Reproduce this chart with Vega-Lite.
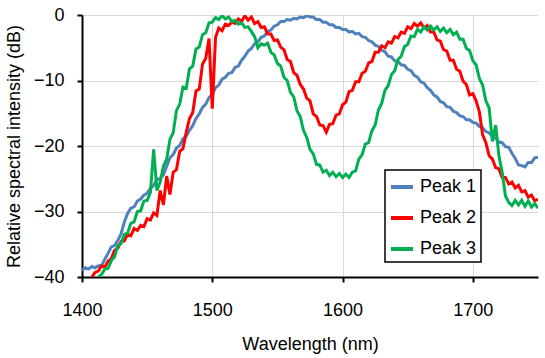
{
 "$schema": "https://vega.github.io/schema/vega-lite/v6.json",
 "width": 456,
 "height": 262,
 "autosize": {"type": "none"},
 "padding": {"left": 82, "top": 15, "right": 7, "bottom": 81},
 "background": "white",
 "config": {"view": {"stroke": null}, "font": "Liberation Sans"},
 "data": {"values": [
  {"w":1400,"Peak 1":-39.0},
  {"w":1402.5,"Peak 1":-38.6},
  {"w":1405,"Peak 1":-38.8},
  {"w":1407.5,"Peak 1":-38.4,"Peak 2":-40.0},
  {"w":1410,"Peak 1":-38.6,"Peak 2":-39.3},
  {"w":1412.5,"Peak 1":-38.3,"Peak 2":-39.1,"Peak 3":-40.0},
  {"w":1415,"Peak 1":-38.3,"Peak 2":-38.3,"Peak 3":-39.6},
  {"w":1417.5,"Peak 1":-37.3,"Peak 2":-38.5,"Peak 3":-38.8},
  {"w":1420,"Peak 1":-36.4,"Peak 2":-37.6,"Peak 3":-38.7},
  {"w":1422.5,"Peak 1":-35.4,"Peak 2":-37.2,"Peak 3":-37.5},
  {"w":1425,"Peak 1":-35.2,"Peak 2":-35.9,"Peak 3":-36.9},
  {"w":1427.5,"Peak 1":-34.4,"Peak 2":-35.6,"Peak 3":-35.2},
  {"w":1430,"Peak 1":-33.4,"Peak 2":-34.6,"Peak 3":-34.9},
  {"w":1432.5,"Peak 1":-31.6,"Peak 2":-34.5,"Peak 3":-33.5},
  {"w":1435,"Peak 1":-30.3,"Peak 2":-33.5,"Peak 3":-33.3},
  {"w":1437.5,"Peak 1":-29.5,"Peak 2":-33.7,"Peak 3":-31.8},
  {"w":1440,"Peak 1":-29.3,"Peak 2":-32.6,"Peak 3":-31.6},
  {"w":1442.5,"Peak 1":-28.4,"Peak 2":-32.9,"Peak 3":-30.0},
  {"w":1445,"Peak 1":-28.1,"Peak 2":-32.1,"Peak 3":-29.9},
  {"w":1447.5,"Peak 1":-27.5,"Peak 2":-32.3,"Peak 3":-28.4},
  {"w":1450,"Peak 1":-27.2,"Peak 2":-31.1,"Peak 3":-28.3},
  {"w":1452.5,"Peak 1":-26.5,"Peak 2":-31.3,"Peak 3":-27.1},
  {"w":1455,"Peak 1":-26.0,"Peak 2":-30.2,"Peak 3":-20.5},
  {"w":1457.5,"Peak 1":-25.1,"Peak 2":-30.6,"Peak 3":-26.8},
  {"w":1460,"Peak 1":-25.0,"Peak 2":-26.8,"Peak 3":-25.5},
  {"w":1462.5,"Peak 1":-24.4,"Peak 2":-29.0,"Peak 3":-23.1},
  {"w":1465,"Peak 1":-23.1,"Peak 2":-24.6,"Peak 3":-22.0},
  {"w":1467.5,"Peak 1":-21.8,"Peak 2":-27.4,"Peak 3":-19.0},
  {"w":1470,"Peak 1":-21.3,"Peak 2":-24.0,"Peak 3":-18.0},
  {"w":1472.5,"Peak 1":-20.3,"Peak 2":-23.6,"Peak 3":-14.6},
  {"w":1475,"Peak 1":-19.9,"Peak 2":-20.8,"Peak 3":-13.6},
  {"w":1477.5,"Peak 1":-18.9,"Peak 2":-20.4,"Peak 3":-11.0},
  {"w":1480,"Peak 1":-18.5,"Peak 2":-17.9,"Peak 3":-11.2},
  {"w":1482.5,"Peak 1":-17.6,"Peak 2":-15.8,"Peak 3":-8.2},
  {"w":1485,"Peak 1":-16.9,"Peak 2":-14.9,"Peak 3":-7.8},
  {"w":1487.5,"Peak 1":-15.8,"Peak 2":-11.6,"Peak 3":-5.2},
  {"w":1490,"Peak 1":-15.1,"Peak 2":-11.3,"Peak 3":-4.9},
  {"w":1492.5,"Peak 1":-14.1,"Peak 2":-7.5,"Peak 3":-3.0},
  {"w":1495,"Peak 1":-13.6,"Peak 2":-6.6,"Peak 3":-2.7},
  {"w":1497.5,"Peak 1":-12.6,"Peak 2":-3.6,"Peak 3":-1.2},
  {"w":1500,"Peak 1":-12.1,"Peak 2":-14.3,"Peak 3":-1.1},
  {"w":1502.5,"Peak 1":-11.1,"Peak 2":-3.4,"Peak 3":-0.4},
  {"w":1505,"Peak 1":-10.7,"Peak 2":-2.0,"Peak 3":-0.7},
  {"w":1507.5,"Peak 1":-9.8,"Peak 2":-2.4,"Peak 3":-0.1},
  {"w":1510,"Peak 1":-9.5,"Peak 2":-1.4,"Peak 3":-0.6},
  {"w":1512.5,"Peak 1":-8.9,"Peak 2":-1.6,"Peak 3":-0.3},
  {"w":1515,"Peak 1":-8.8,"Peak 2":-1.1,"Peak 3":-1.0},
  {"w":1517.5,"Peak 1":-8.0,"Peak 2":-1.3,"Peak 3":-0.8},
  {"w":1520,"Peak 1":-7.8,"Peak 2":-0.6,"Peak 3":-1.4},
  {"w":1522.5,"Peak 1":-6.9,"Peak 2":-1.0,"Peak 3":-1.2},
  {"w":1525,"Peak 1":-6.3,"Peak 2":-0.1,"Peak 3":-1.9},
  {"w":1527.5,"Peak 1":-5.5,"Peak 2":-0.8,"Peak 3":-1.8},
  {"w":1530,"Peak 1":-5.1,"Peak 2":-0.3,"Peak 3":-2.5},
  {"w":1532.5,"Peak 1":-4.4,"Peak 2":-1.3,"Peak 3":-3.3},
  {"w":1535,"Peak 1":-4.1,"Peak 2":-1.0,"Peak 3":-5.0},
  {"w":1537.5,"Peak 1":-3.4,"Peak 2":-1.9,"Peak 3":-4.4},
  {"w":1540,"Peak 1":-3.2,"Peak 2":-1.8,"Peak 3":-4.6},
  {"w":1542.5,"Peak 1":-2.5,"Peak 2":-2.9,"Peak 3":-4.3},
  {"w":1545,"Peak 1":-2.3,"Peak 2":-2.9,"Peak 3":-5.7},
  {"w":1547.5,"Peak 1":-1.7,"Peak 2":-3.9,"Peak 3":-6.1},
  {"w":1550,"Peak 1":-1.5,"Peak 2":-3.8,"Peak 3":-7.4},
  {"w":1552.5,"Peak 1":-1.0,"Peak 2":-4.9,"Peak 3":-7.8},
  {"w":1555,"Peak 1":-1.0,"Peak 2":-5.3,"Peak 3":-9.5},
  {"w":1557.5,"Peak 1":-0.7,"Peak 2":-6.8,"Peak 3":-10.0},
  {"w":1560,"Peak 1":-0.8,"Peak 2":-7.1,"Peak 3":-11.8},
  {"w":1562.5,"Peak 1":-0.5,"Peak 2":-8.8,"Peak 3":-12.5},
  {"w":1565,"Peak 1":-0.6,"Peak 2":-9.2,"Peak 3":-14.6},
  {"w":1567.5,"Peak 1":-0.3,"Peak 2":-10.6,"Peak 3":-15.5},
  {"w":1570,"Peak 1":-0.4,"Peak 2":-11.3,"Peak 3":-17.6},
  {"w":1572.5,"Peak 1":-0.1,"Peak 2":-12.7,"Peak 3":-18.7},
  {"w":1575,"Peak 1":-0.3,"Peak 2":-13.1,"Peak 3":-20.5},
  {"w":1577.5,"Peak 1":-0.3,"Peak 2":-15.1,"Peak 3":-21.2},
  {"w":1580,"Peak 1":-0.7,"Peak 2":-15.5,"Peak 3":-22.8},
  {"w":1582.5,"Peak 1":-0.7,"Peak 2":-16.8,"Peak 3":-22.9},
  {"w":1585,"Peak 1":-1.1,"Peak 2":-16.9,"Peak 3":-24.0},
  {"w":1587.5,"Peak 1":-1.1,"Peak 2":-17.9,"Peak 3":-23.7},
  {"w":1590,"Peak 1":-1.5,"Peak 2":-16.7,"Peak 3":-24.5},
  {"w":1592.5,"Peak 1":-1.5,"Peak 2":-16.6,"Peak 3":-24.0},
  {"w":1595,"Peak 1":-1.9,"Peak 2":-15.3,"Peak 3":-24.7},
  {"w":1597.5,"Peak 1":-1.9,"Peak 2":-15.1,"Peak 3":-24.2},
  {"w":1600,"Peak 1":-2.2,"Peak 2":-13.7,"Peak 3":-24.8},
  {"w":1602.5,"Peak 1":-2.2,"Peak 2":-13.3,"Peak 3":-24.3},
  {"w":1605,"Peak 1":-2.6,"Peak 2":-11.7,"Peak 3":-24.8},
  {"w":1607.5,"Peak 1":-2.5,"Peak 2":-11.5,"Peak 3":-24.0},
  {"w":1610,"Peak 1":-2.9,"Peak 2":-10.2,"Peak 3":-23.8},
  {"w":1612.5,"Peak 1":-2.8,"Peak 2":-10.2,"Peak 3":-22.0},
  {"w":1615,"Peak 1":-3.3,"Peak 2":-8.9,"Peak 3":-21.3},
  {"w":1617.5,"Peak 1":-3.4,"Peak 2":-8.6,"Peak 3":-19.7},
  {"w":1620,"Peak 1":-3.9,"Peak 2":-7.3,"Peak 3":-19.5},
  {"w":1622.5,"Peak 1":-4.1,"Peak 2":-7.1,"Peak 3":-17.7},
  {"w":1625,"Peak 1":-4.6,"Peak 2":-5.7,"Peak 3":-16.8},
  {"w":1627.5,"Peak 1":-4.8,"Peak 2":-5.7,"Peak 3":-14.5},
  {"w":1630,"Peak 1":-5.4,"Peak 2":-4.7,"Peak 3":-13.5},
  {"w":1632.5,"Peak 1":-5.6,"Peak 2":-5.0,"Peak 3":-11.5},
  {"w":1635,"Peak 1":-6.3,"Peak 2":-4.1,"Peak 3":-10.8},
  {"w":1637.5,"Peak 1":-6.4,"Peak 2":-4.3,"Peak 3":-9.1},
  {"w":1640,"Peak 1":-7.0,"Peak 2":-3.3,"Peak 3":-8.5},
  {"w":1642.5,"Peak 1":-7.1,"Peak 2":-3.5,"Peak 3":-6.8},
  {"w":1645,"Peak 1":-7.6,"Peak 2":-2.6,"Peak 3":-6.3},
  {"w":1647.5,"Peak 1":-7.7,"Peak 2":-2.8,"Peak 3":-4.8},
  {"w":1650,"Peak 1":-8.3,"Peak 2":-1.8,"Peak 3":-4.5},
  {"w":1652.5,"Peak 1":-8.5,"Peak 2":-2.1,"Peak 3":-3.2},
  {"w":1655,"Peak 1":-9.2,"Peak 2":-1.3,"Peak 3":-3.3},
  {"w":1657.5,"Peak 1":-9.5,"Peak 2":-1.7,"Peak 3":-2.2},
  {"w":1660,"Peak 1":-10.2,"Peak 2":-1.2,"Peak 3":-2.6},
  {"w":1662.5,"Peak 1":-10.4,"Peak 2":-2.0,"Peak 3":-1.8},
  {"w":1665,"Peak 1":-11.1,"Peak 2":-1.6,"Peak 3":-2.3},
  {"w":1667.5,"Peak 1":-11.5,"Peak 2":-2.6,"Peak 3":-1.7},
  {"w":1670,"Peak 1":-12.2,"Peak 2":-2.6,"Peak 3":-2.3},
  {"w":1672.5,"Peak 1":-12.5,"Peak 2":-3.8,"Peak 3":-1.8},
  {"w":1675,"Peak 1":-13.2,"Peak 2":-4.0,"Peak 3":-2.5},
  {"w":1677.5,"Peak 1":-13.4,"Peak 2":-5.3,"Peak 3":-2.0},
  {"w":1680,"Peak 1":-14.0,"Peak 2":-5.5,"Peak 3":-2.7},
  {"w":1682.5,"Peak 1":-14.1,"Peak 2":-6.9,"Peak 3":-2.2},
  {"w":1685,"Peak 1":-14.7,"Peak 2":-6.9,"Peak 3":-3.0},
  {"w":1687.5,"Peak 1":-14.9,"Peak 2":-8.3,"Peak 3":-2.6},
  {"w":1690,"Peak 1":-15.4,"Peak 2":-8.6,"Peak 3":-3.7},
  {"w":1692.5,"Peak 1":-15.5,"Peak 2":-10.1,"Peak 3":-3.7},
  {"w":1695,"Peak 1":-16.0,"Peak 2":-10.6,"Peak 3":-5.1},
  {"w":1697.5,"Peak 1":-16.0,"Peak 2":-12.2,"Peak 3":-5.4},
  {"w":1700,"Peak 1":-16.4,"Peak 2":-12.0,"Peak 3":-7.0},
  {"w":1702.5,"Peak 1":-16.5,"Peak 2":-13.1,"Peak 3":-7.6},
  {"w":1705,"Peak 1":-17.0,"Peak 2":-14.8,"Peak 3":-9.7},
  {"w":1707.5,"Peak 1":-17.2,"Peak 2":-18.3,"Peak 3":-10.7},
  {"w":1710,"Peak 1":-17.8,"Peak 2":-19.5,"Peak 3":-13.1},
  {"w":1712.5,"Peak 1":-18.0,"Peak 2":-21.5,"Peak 3":-14.2},
  {"w":1715,"Peak 1":-18.6,"Peak 2":-22.0,"Peak 3":-19.3},
  {"w":1717.5,"Peak 1":-18.8,"Peak 2":-23.3,"Peak 3":-16.8},
  {"w":1720,"Peak 1":-19.4,"Peak 2":-23.5,"Peak 3":-21.5},
  {"w":1722.5,"Peak 1":-19.5,"Peak 2":-24.8,"Peak 3":-24.0},
  {"w":1725,"Peak 1":-20.1,"Peak 2":-24.8,"Peak 3":-27.6},
  {"w":1727.5,"Peak 1":-20.2,"Peak 2":-25.8,"Peak 3":-28.6},
  {"w":1730,"Peak 1":-21.1,"Peak 2":-25.5,"Peak 3":-29.1},
  {"w":1732.5,"Peak 1":-21.9,"Peak 2":-26.4,"Peak 3":-28.3},
  {"w":1735,"Peak 1":-22.9,"Peak 2":-26.0,"Peak 3":-29.0},
  {"w":1737.5,"Peak 1":-23.0,"Peak 2":-27.0,"Peak 3":-28.3},
  {"w":1740,"Peak 1":-23.2,"Peak 2":-26.8,"Peak 3":-29.2},
  {"w":1742.5,"Peak 1":-22.5,"Peak 2":-27.8,"Peak 3":-28.4},
  {"w":1745,"Peak 1":-22.5,"Peak 2":-27.5,"Peak 3":-29.3},
  {"w":1747.5,"Peak 1":-21.8,"Peak 2":-28.4,"Peak 3":-28.8},
  {"w":1750,"Peak 1":-21.7,"Peak 2":-28.1,"Peak 3":-29.5}
 ]},
 "transform": [
  {"fold": ["Peak 1", "Peak 2", "Peak 3"], "as": ["series", "v"]},
  {"filter": "isValid(datum.v)"}
 ],
 "mark": {"type": "line", "strokeWidth": 3, "clip": true},
 "encoding": {
  "x": {
   "field": "w", "type": "quantitative",
   "scale": {"domain": [1400, 1750], "nice": false, "zero": false},
   "axis": {
    "values": [1400, 1500, 1600, 1700], "format": "d",
    "grid": true, "gridColor": "#d9d9d9", "gridWidth": 1,
    "domainColor": "#000000", "domainWidth": 2,
    "tickColor": "#000000", "tickWidth": 2, "tickSize": 5,
    "labelFontSize": 18, "labelColor": "#000000", "labelPadding": 19, "labelFlush": false,
    "title": "Wavelength (nm)", "titleFontSize": 18, "titleFontWeight": "normal",
    "titleColor": "#000000", "titlePadding": 16
   }
  },
  "y": {
   "field": "v", "type": "quantitative",
   "scale": {"domain": [-40, 0], "nice": false, "zero": false},
   "axis": {
    "values": [-40, -30, -20, -10, 0], "format": "d",
    "grid": true, "gridColor": "#d9d9d9", "gridWidth": 1,
    "domainColor": "#000000", "domainWidth": 2,
    "tickColor": "#000000", "tickWidth": 2, "tickSize": 5,
    "labelFontSize": 18, "labelColor": "#000000", "labelPadding": 13, "labelFlush": false,
    "title": "Relative spectral intensity (dB)", "titleFontSize": 18, "titleFontWeight": "normal",
    "titleColor": "#000000", "titlePadding": 10
   }
  },
  "color": {
   "field": "series", "type": "nominal",
   "scale": {"domain": ["Peak 1", "Peak 2", "Peak 3"], "range": ["#4F81BD", "#FF0000", "#00B050"]},
   "legend": {
    "orient": "none", "legendX": 303, "legendY": 155, "title": null,
    "symbolType": "stroke", "symbolStrokeWidth": 4, "symbolSize": 484,
    "labelFontSize": 18, "labelColor": "#000000", "labelOffset": 5,
    "strokeColor": "#000000", "fillColor": "white",
    "padding": 4, "rowPadding": 9,
    "encode": {"legend": {"update": {"strokeWidth": {"value": 1.5}}}}
   }
  }
 }
}
